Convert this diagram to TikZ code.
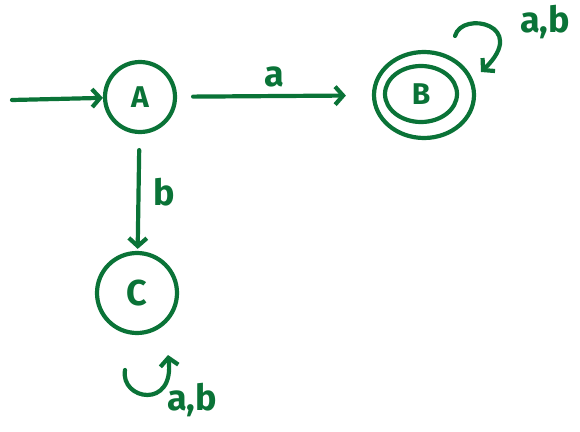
\documentclass[tikz,border=0pt]{standalone}
\usepackage{fontspec}
\setmainfont{Fira Sans}
\usetikzlibrary{arrows.meta,shapes.geometric}
\definecolor{ink}{RGB}{10,115,55}
\begin{document}
\begin{tikzpicture}[x=1pt,y=-1pt,
  every node/.style={text=ink},
  stroke/.style={draw=ink,line width=4.2pt,line cap=round},
  conn/.style={stroke,-{Straight Barb[length=8pt,width=18pt]}},
  statec/.style={stroke,circle,minimum size=70pt,inner sep=0pt,font=\fontsize{30}{30}\selectfont\bfseries},
  lbl/.style={font=\fontsize{36}{36}\selectfont\bfseries}]
\useasboundingbox (0,0) rectangle (580,431);
\node[statec] (A) at (140,97) {A};
\node[stroke,ellipse,minimum width=100pt,minimum height=86pt,inner sep=0pt] (Bo) at (424,95) {};
\node[stroke,ellipse,minimum width=72pt,minimum height=56pt,inner sep=0pt,font=\fontsize{30}{30}\selectfont\bfseries] (B) at (421,94) {B};
\node[statec,minimum size=80pt,font=\fontsize{36}{36}\selectfont\bfseries] (C) at (137,293) {C};
\coordinate (s) at (12,100);
\draw[conn] (s) -- (A);
\draw[conn,shorten <=16pt,shorten >=26pt] (A) -- node[lbl,above=4pt] {a} (Bo);
\draw[conn,shorten <=16pt,shorten >=2pt] (A) -- node[lbl,right=10pt] {b} (C);
\coordinate (b1) at (455,36);
\coordinate (b2) at (481,72);
\draw[conn] (b1) .. controls (462,10) and (530,25) .. (b2);
\node[lbl] (lb) at (545,22) {a,b};
\coordinate (c1) at (125,370);
\coordinate (c2) at (168,355);
\draw[conn] (c1) .. controls (120,400) and (175,410) .. (c2);
\node[lbl] (lc) at (192,400) {a,b};
\end{tikzpicture}
\end{document}
